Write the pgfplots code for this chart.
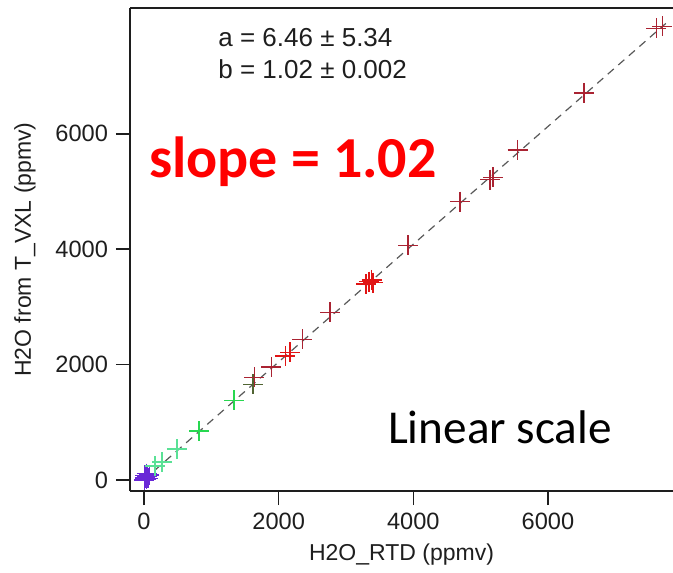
\documentclass[border=0pt]{standalone}
\usepackage{pgfplots}
\pgfplotsset{compat=1.18}
\usepackage{fontspec}
\setmainfont{Liberation Sans}
\newfontfamily\calibri{Carlito}
\definecolor{cpurple}{RGB}{105,40,215}
\definecolor{cteal}{RGB}{90,225,150}
\definecolor{cgreen}{RGB}{40,215,80}
\definecolor{colive}{RGB}{80,100,50}
\definecolor{cdred}{RGB}{170,35,50}
\definecolor{cbred}{RGB}{225,20,20}
\definecolor{txt}{RGB}{30,30,30}
\begin{document}
\begin{tikzpicture}
\begin{axis}[
  name=ax,
  scale only axis,
  width=271.5pt, height=241.5pt,
  xmin=-208, xmax=7857, ymin=-190, ymax=8179,
  axis x line*=box, axis y line*=left,
  axis line style={line width=0.8pt, txt},
  xtick={0,2000,4000,6000}, ytick={0,2000,4000,6000},
  xtick pos=left, ytick pos=left,
  tick align=outside, major tick length=7pt,
  every tick/.style={line width=0.75pt, txt},
  /pgf/number format/assume math mode=true,
  /pgf/number format/1000 sep={},
  tick label style={font=\fontsize{11.8}{13}\selectfont, text=txt},
  xticklabel style={yshift=-0.5pt},
  yticklabel style={xshift=-0.5pt},
  xlabel={H2O\_RTD (ppmv)},
  ylabel={H2O from T\_VXL (ppmv)},
  label style={font=\fontsize{11.5}{13}\selectfont, text=txt},
  xlabel style={at={(axis description cs:0.5,-0.1325)}, anchor=center},
  ylabel style={at={(axis description cs:-0.1934,0.5)}, anchor=center, rotate=0},
  clip=false,
]
% fit line
\addplot[gray!70!black, line width=0.6pt, dash pattern=on 4pt off 3pt] coordinates {(0,6.46) (7750,7911.5)};
% purple
\addplot[only marks, mark=+, mark size=5pt, line width=0.8pt, cpurple] coordinates {
(5,5) (20,40) (35,15) (50,60) (60,30) (80,90) (15,80) (40,110)};
% teal green
\addplot[only marks, mark=+, mark size=5pt, line width=0.7pt, cteal] coordinates {
(163,242) (267,311) (490,536)};
% green
\addplot[only marks, mark=+, mark size=5pt, line width=0.7pt, cgreen] coordinates {
(817,847) (1337,1383)};
% olive
\addplot[only marks, mark=+, mark size=5pt, line width=0.7pt, colive] coordinates {
(1619,1660)};
% dark red
\addplot[only marks, mark=+, mark size=5pt, line width=0.7pt, cdred] coordinates {
(1640,1780) (1890,1960) (2350,2438) (2763,2905) (3921,4064) (4693,4824)
(5139,5205) (5185,5245) (5550,5720) (6535,6709) (7610,7825) (7700,7860)};
% bright red
\addplot[only marks, mark=+, mark size=5pt, line width=0.8pt, cbred] coordinates {
(2100,2150) (2170,2210) (3300,3400) (3340,3440) (3380,3470) (3400,3420)};
\node[anchor=west, align=left, font=\fontsize{13}{16}\selectfont, text=txt] at (axis cs:1000,7384) {a = 6.46 ± 5.34\\b = 1.02 ± 0.002};
\node[anchor=west, text=red, font=\calibri\bfseries\fontsize{29}{32}\selectfont] at (axis cs:-30,5516) {slope = 1.02};
\node[anchor=center, text=black, font=\calibri\fontsize{23.6}{26}\selectfont] at (axis cs:5287,916) {Linear scale};
\end{axis}
\pgfresetboundingbox
\path ([xshift=-65pt, yshift=-40.5pt]ax.south west) rectangle ([yshift=4pt]ax.north east);
\end{tikzpicture}
\end{document}
